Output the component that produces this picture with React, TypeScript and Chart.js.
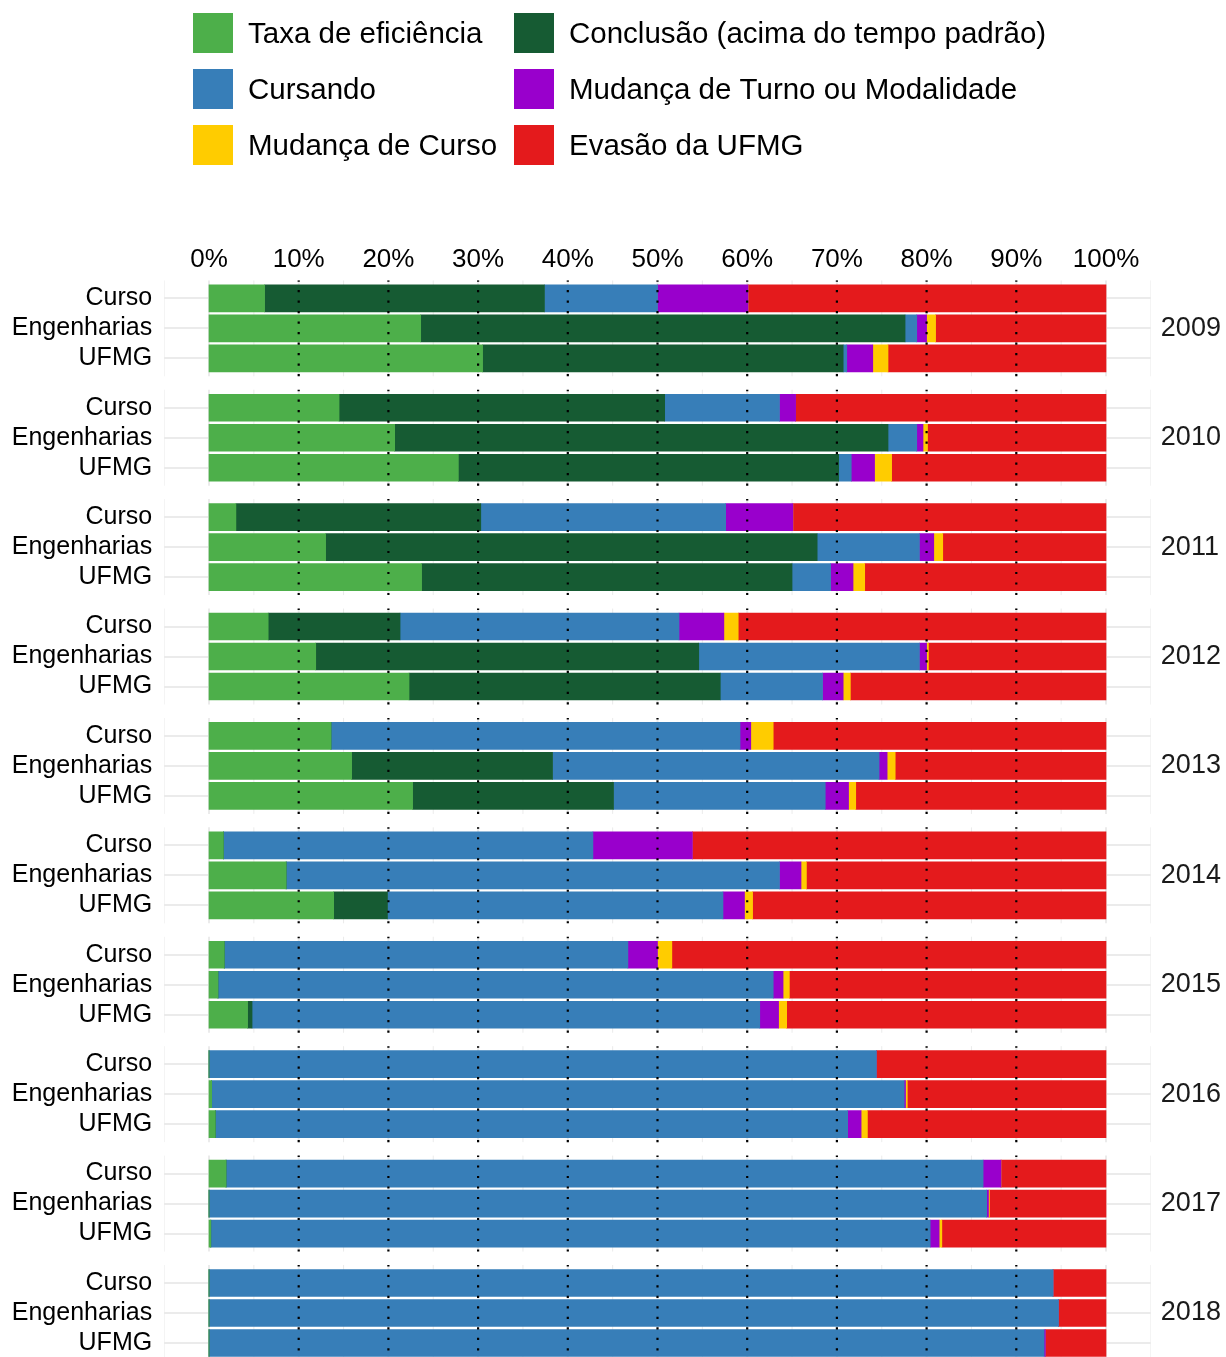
import React, { useEffect, useRef } from 'react';
import { Chart, registerables } from 'chart.js';

Chart.register(...registerables);

// ---------- data ----------
const YEARS = ['2009', '2010', '2011', '2012', '2013', '2014', '2015', '2016', '2017', '2018'];
const GROUPS = ['Curso', 'Engenharias', 'UFMG'];
const X_TICKS = [0, 10, 20, 30, 40, 50, 60, 70, 80, 90, 100];
const DOTTED_AT = [10, 20, 30, 40, 50, 60, 70, 80, 90];

const SERIES_LABELS = [
  'Taxa de eficiência',
  'Conclusão (acima do tempo padrão)',
  'Cursando',
  'Mudança de Turno ou Modalidade',
  'Mudança de Curso',
  'Evasão da UFMG',
];
const SERIES_COLORS = ['#4DAF4A', '#165B33', '#377EB8', '#9900CC', '#FFCC00', '#E41A1C'];

// values per year, in order Curso, Engenharias, UFMG
const TAXA = [
  6.2, 23.6, 30.5,
  14.5, 20.7, 27.8,
  3.0, 13.0, 23.7,
  6.6, 11.9, 22.3,
  13.6, 15.9, 22.7,
  1.6, 8.6, 13.9,
  1.7, 1.0, 4.3,
  0, 0.3, 0.7,
  1.9, 0, 0.2,
  0, 0, 0,
];
const CONCLUSAO = [
  31.2, 54.0, 40.2,
  36.3, 55.0, 42.4,
  27.3, 54.8, 41.3,
  14.7, 42.7, 34.7,
  0, 22.4, 22.4,
  0, 0, 6.0,
  0, 0, 0.5,
  0, 0, 0,
  0, 0, 0,
  0, 0, 0,
];
const CURSANDO = [
  12.6, 1.3, 0.4,
  12.8, 3.2, 1.4,
  27.3, 11.4, 4.3,
  31.1, 24.6, 11.4,
  45.6, 36.4, 23.6,
  41.2, 55.0, 37.4,
  45.0, 61.9, 56.6,
  74.4, 77.2, 70.5,
  84.4, 86.7, 80.2,
  94.1, 94.7, 93.1,
];
const MUD_TURNO = [
  10.1, 1.1, 2.9,
  1.8, 0.7, 2.6,
  7.5, 1.6, 2.5,
  5.0, 0.8, 2.3,
  1.2, 0.9, 2.6,
  11.1, 2.4, 2.4,
  3.3, 1.1, 2.1,
  0, 0.15, 1.5,
  2.0, 0.2, 1.0,
  0, 0, 0.15,
];
const MUD_CURSO = [
  0, 1.0, 1.7,
  0, 0.5, 1.9,
  0, 1.0, 1.3,
  1.6, 0.2, 0.8,
  2.5, 0.9, 0.8,
  0, 0.6, 0.9,
  1.6, 0.7, 0.9,
  0, 0.2, 0.7,
  0, 0.1, 0.3,
  0, 0, 0,
];
const EVASAO = [
  39.9, 19.0, 24.3,
  34.6, 19.9, 23.9,
  34.9, 18.2, 26.9,
  41.0, 19.8, 28.5,
  37.1, 23.5, 27.9,
  46.1, 33.4, 39.4,
  48.4, 35.3, 35.6,
  25.6, 22.15, 26.6,
  11.7, 13.0, 18.3,
  5.9, 5.3, 6.75,
];

const SERIES_VALUES = [TAXA, CONCLUSAO, CURSANDO, MUD_TURNO, MUD_CURSO, EVASAO];

// ---------- layout ----------
const FONT = '"Liberation Sans", Arial, Helvetica, sans-serif';
const FACET_STEP = 3.647; // category units between facets
const PANEL_EXPAND = 0.6;
const Y_MIN = -0.6;
const Y_MAX = 35.29;

const pos = (f: number, r: number) => f * FACET_STEP + r;

const BAR_POSITIONS: number[] = [];
YEARS.forEach((_, f) => GROUPS.forEach((__, r) => BAR_POSITIONS.push(pos(f, r))));
const YEAR_POSITIONS = YEARS.map((_, f) => pos(f, 1));

const panelPlugin = {
  id: 'panelDecor',
  beforeDatasetsDraw(chart: any) {
    const { ctx, chartArea, scales } = chart;
    const x = scales.x;
    const y = scales.y;
    ctx.save();
    ctx.beginPath();
    ctx.rect(chartArea.left, chartArea.top, chartArea.right - chartArea.left, chartArea.bottom - chartArea.top);
    ctx.clip();
    YEARS.forEach((_, f) => {
      const top = y.getPixelForValue(pos(f, 0) - PANEL_EXPAND);
      const bot = y.getPixelForValue(pos(f, GROUPS.length - 1) + PANEL_EXPAND);
      for (let v = -5; v <= 105; v += 5) {
        const major = v % 10 === 0;
        const px = x.getPixelForValue(v);
        ctx.strokeStyle = '#EBEBEB';
        ctx.lineWidth = major ? 2 : 1;
        ctx.beginPath();
        ctx.moveTo(px, top);
        ctx.lineTo(px, bot);
        ctx.stroke();
      }
    });
    ctx.restore();
  },
  afterDatasetsDraw(chart: any) {
    const { ctx, chartArea, scales } = chart;
    const x = scales.x;
    const y = scales.y;
    ctx.save();
    ctx.beginPath();
    ctx.rect(chartArea.left, chartArea.top, chartArea.right - chartArea.left, chartArea.bottom - chartArea.top);
    ctx.clip();
    ctx.strokeStyle = '#000000';
    ctx.lineWidth = 2.2;
    ctx.lineCap = 'butt';
    ctx.setLineDash([2.2, 8.3]);
    YEARS.forEach((_, f) => {
      const top = y.getPixelForValue(pos(f, 0) - PANEL_EXPAND);
      const bot = y.getPixelForValue(pos(f, GROUPS.length - 1) + PANEL_EXPAND);
      DOTTED_AT.forEach((v) => {
        const px = x.getPixelForValue(v);
        ctx.beginPath();
        ctx.moveTo(px, bot);
        ctx.lineTo(px, top);
        ctx.stroke();
      });
    });
    ctx.restore();
  },
};

const legendPlugin = {
  id: 'gridLegend',
  afterDraw(chart: any) {
    const ctx = chart.ctx;
    const colX = [193, 514];
    const top = 13;
    const step = 56;
    const size = 40;
    ctx.save();
    chart.data.datasets.forEach((ds: any, i: number) => {
      const col = i % 2;
      const row = Math.floor(i / 2);
      const sx = colX[col];
      const sy = top + row * step;
      ctx.fillStyle = ds.backgroundColor;
      ctx.fillRect(sx, sy, size, size);
      ctx.fillStyle = '#000000';
      ctx.font = `29.5px ${FONT}`;
      ctx.textAlign = 'left';
      ctx.textBaseline = 'middle';
      ctx.fillText(ds.label, sx + 55, sy + size / 2 + 1.5);
    });
    ctx.restore();
  },
};

export default function App() {
  const ref = useRef<HTMLCanvasElement>(null);

  useEffect(() => {
    document.body.style.margin = '0';
    document.body.style.overflow = 'hidden';
    const canvas = ref.current;
    if (!canvas) return;

    const datasets = SERIES_LABELS.map((label, s) => ({
      label,
      backgroundColor: SERIES_COLORS[s],
      borderWidth: 0,
      barThickness: 27,
      data: SERIES_VALUES[s].map((v, i) => ({ x: v, y: BAR_POSITIONS[i] })),
    }));

    const chart = new Chart(canvas, {
      type: 'bar',
      data: { datasets } as any,
      plugins: [panelPlugin, legendPlugin],
      options: {
        animation: false,
        responsive: true,
        maintainAspectRatio: false,
        indexAxis: 'y',
        layout: { padding: 0 },
        plugins: {
          legend: { display: false },
          tooltip: { enabled: false },
        },
        scales: {
          x: {
            type: 'linear',
            position: 'top',
            min: -5,
            max: 105,
            offset: false,
            stacked: true,
            afterBuildTicks: (s: any) => {
              s.ticks = X_TICKS.map((v) => ({ value: v }));
            },
            afterFit: (s: any) => {
              s.height = 280.3;
              s.paddingLeft = 0;
              s.paddingRight = 0;
            },
            grid: { display: false, drawTicks: false, offset: false },
            border: { display: false },
            ticks: {
              callback: (v: any) => `${v}%`,
              font: { family: FONT, size: 26 },
              color: '#000000',
              padding: 5,
              maxRotation: 0,
              autoSkip: false,
            },
          },
          y: {
            type: 'linear',
            position: 'left',
            reverse: true,
            min: Y_MIN,
            max: Y_MAX,
            bounds: 'data',
            offset: false,
            stacked: true,
            afterBuildTicks: (s: any) => {
              s.ticks = BAR_POSITIONS.map((v) => ({ value: v }));
            },
            afterFit: (s: any) => {
              s.width = 164.15;
              s.paddingTop = 0;
              s.paddingBottom = 0;
            },
            grid: { color: '#EBEBEB', lineWidth: 2, drawTicks: false, offset: false },
            border: { display: false },
            ticks: {
              callback: (_v: any, i: number) => GROUPS[i % GROUPS.length],
              font: { family: FONT, size: 25 },
              color: '#000000',
              padding: 12,
              autoSkip: false,
            },
          },
          y2: {
            type: 'linear',
            position: 'right',
            reverse: true,
            min: Y_MIN,
            max: Y_MAX,
            bounds: 'data',
            offset: false,
            afterBuildTicks: (s: any) => {
              s.ticks = YEAR_POSITIONS.map((v) => ({ value: v }));
            },
            afterFit: (s: any) => {
              s.width = 1226 - 1150.85;
              s.paddingTop = 0;
              s.paddingBottom = 0;
            },
            grid: { display: false, drawTicks: false, offset: false },
            border: { display: false },
            ticks: {
              callback: (_v: any, i: number) => YEARS[i],
              font: { family: FONT, size: 27 },
              color: '#1A1A1A',
              padding: 10,
              autoSkip: false,
            },
          },
        },
      } as any,
    });

    return () => chart.destroy();
  }, []);

  return (
    <div style={{ position: 'relative', width: 1226, height: 1357 }}>
      <canvas ref={ref} />
    </div>
  );
}
